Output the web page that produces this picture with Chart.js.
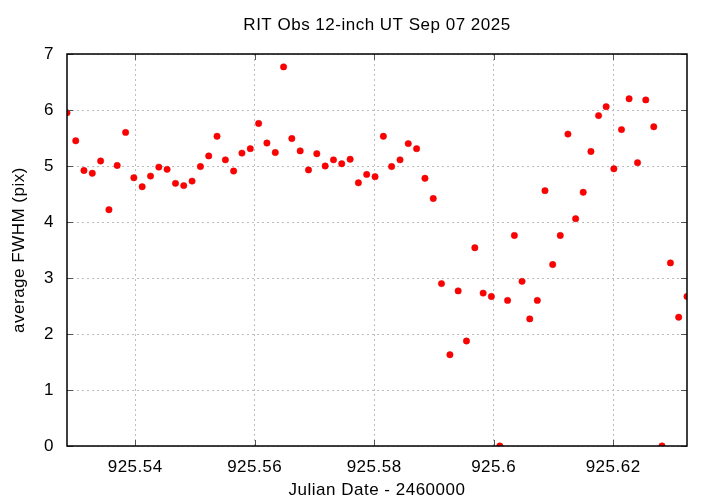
<!DOCTYPE html>
<html>
<head>
<meta charset="utf-8">
<script src="https://cdn.jsdelivr.net/npm/chart.js@4.4.1/dist/chart.umd.min.js"></script>
<style>
    html, body { margin: 0; padding: 0; background: #fff; }
    #wrap { width: 720px; height: 504px; }
</style>
</head>
<body>
<div id="wrap"><canvas id="fwhmChart" width="720" height="504"></canvas></div>
<script>
// Julian date - 2460000 for each frame
const jdValues = [
    925.52859, 925.53005, 925.53143, 925.53282, 925.53422, 925.53561, 925.53699, 925.53840,
    925.53978, 925.54117, 925.54257, 925.54396, 925.54534, 925.54675, 925.54813, 925.54952,
    925.55092, 925.55231, 925.55370, 925.55510, 925.55648, 925.55787, 925.55927, 925.56066,
    925.56205, 925.56345, 925.56484, 925.56622, 925.56762, 925.56901, 925.57040, 925.57180,
    925.57319, 925.57457, 925.57598, 925.57736, 925.57875, 925.58015, 925.58154, 925.58292,
    925.58433, 925.58571, 925.58710, 925.58850, 925.58989, 925.59127, 925.59268, 925.59406,
    925.59545, 925.59685, 925.59824, 925.59962, 925.60103, 925.60233, 925.60347, 925.60475,
    925.60604, 925.60731, 925.60859, 925.60988, 925.61115, 925.61243, 925.61372, 925.61499,
    925.61628, 925.61756, 925.61883, 925.62012, 925.62140, 925.62267, 925.62408, 925.62546,
    925.62680, 925.62818, 925.62959, 925.63097, 925.63236
];

// average FWHM in pixels
const fwhmValues = [
    5.95, 5.45, 4.92, 4.87, 5.09, 4.22, 5.01, 5.60,
    4.79, 4.63, 4.82, 4.98, 4.94, 4.69, 4.65, 4.73,
    4.99, 5.18, 5.53, 5.11, 4.91, 5.23, 5.31, 5.76,
    5.41, 5.24, 6.77, 5.49, 5.27, 4.93, 5.22, 5.00,
    5.11, 5.04, 5.12, 4.70, 4.85, 4.81, 5.53, 4.99,
    5.11, 5.40, 5.31, 4.78, 4.42, 2.90, 1.63, 2.77,
    1.875, 3.54, 2.73, 2.67, 0.00, 2.60, 3.76, 2.94,
    2.27, 2.60, 4.56, 3.24, 3.76, 5.57, 4.06, 4.53,
    5.26, 5.90, 6.06, 4.95, 5.65, 6.20, 5.06, 6.18,
    5.70, 0.00, 3.27, 2.30, 2.67
];

const xTicks = [925.54, 925.56, 925.58, 925.60, 925.62];
const xTickLabels = ['925.54', '925.56', '925.58', '925.6', '925.62'];
const yTicks = [0, 1, 2, 3, 4, 5, 6, 7];

const X_MIN = 925.52859;
const X_MAX = 925.63236;
const FONT = '"Liberation Sans", Arial, sans-serif';
const FONT_SIZE = 17;

// gnuplot-style frame: black border, inward tick marks on all four sides, centred title
const framePlugin = {
    id: 'frame',
    beforeDraw(chart) {
        // gnuplot's text runs a bit wider than canvas text
        chart.ctx.letterSpacing = '0.5px';
    },
    afterDraw(chart) {
        const { ctx, chartArea: a, scales } = chart;
        ctx.save();
        ctx.strokeStyle = '#555';
        ctx.lineWidth = 1;
        const tl = 6;
        ctx.beginPath();
        xTicks.forEach(v => {
            const px = Math.round(scales.x.getPixelForValue(v)) + 0.5;
            ctx.moveTo(px, a.bottom); ctx.lineTo(px, a.bottom - tl);
            ctx.moveTo(px, a.top); ctx.lineTo(px, a.top + tl);
        });
        yTicks.forEach(v => {
            const py = Math.round(scales.y.getPixelForValue(v)) + 0.5;
            ctx.moveTo(a.left, py); ctx.lineTo(a.left + tl, py);
            ctx.moveTo(a.right, py); ctx.lineTo(a.right - tl, py);
        });
        ctx.stroke();

        ctx.strokeStyle = '#000';
        ctx.lineWidth = 1.5;
        ctx.strokeRect(a.left, a.top, a.right - a.left, a.bottom - a.top);

        ctx.fillStyle = '#000';
        ctx.letterSpacing = '0.5px';
        ctx.font = FONT_SIZE + 'px ' + FONT;
        ctx.textAlign = 'center';
        ctx.textBaseline = 'middle';
        ctx.fillText('RIT Obs 12-inch UT Sep 07 2025', (a.left + a.right) / 2, 25);
        ctx.restore();
    }
};

new Chart(document.getElementById('fwhmChart'), {
    type: 'scatter',
    data: {
        datasets: [{
            label: 'FWHM',
            data: jdValues.map((x, i) => ({ x: x, y: fwhmValues[i] })),
            backgroundColor: '#ff0000',
            borderColor: '#e00000',
            borderWidth: 0.5,
            pointRadius: 3.2,
            pointHoverRadius: 3.2
        }]
    },
    options: {
        responsive: false,
        animation: false,
        layout: { padding: { top: 54, right: 33, left: 0, bottom: 0 } },
        plugins: {
            legend: { display: false },
            tooltip: { enabled: false },
            title: { display: false }
        },
        scales: {
            x: {
                type: 'linear',
                min: X_MIN,
                max: X_MAX,
                afterBuildTicks: scale => { scale.ticks = xTicks.map(v => ({ value: v })); },
                afterFit: scale => { scale.height = 58; },
                grid: { color: '#bdbdbd', lineWidth: 1, drawTicks: false },
                border: { display: false, dash: [2, 3] },
                ticks: {
                    padding: 11,
                    color: '#000',
                    font: { family: FONT, size: FONT_SIZE },
                    maxRotation: 0,
                    callback: value => {
                        const i = xTicks.findIndex(t => Math.abs(t - value) < 1e-6);
                        return i >= 0 ? xTickLabels[i] : '';
                    }
                },
                title: {
                    display: true,
                    text: 'Julian Date - 2460000',
                    color: '#000',
                    font: { family: FONT, size: FONT_SIZE },
                    padding: { top: 0, bottom: 3 }
                }
            },
            y: {
                type: 'linear',
                min: 0,
                max: 7,
                afterBuildTicks: scale => { scale.ticks = yTicks.map(v => ({ value: v })); },
                afterFit: scale => { scale.width = 67; },
                grid: { color: '#bdbdbd', lineWidth: 1, drawTicks: false },
                border: { display: false, dash: [2, 3] },
                ticks: {
                    padding: 13,
                    color: '#000',
                    font: { family: FONT, size: FONT_SIZE },
                    callback: value => String(value)
                },
                title: {
                    display: true,
                    text: 'average FWHM (pix)',
                    color: '#000',
                    font: { family: FONT, size: FONT_SIZE },
                    padding: { top: 9, bottom: 0 }
                }
            }
        }
    },
    plugins: [framePlugin]
});
</script>
</body>
</html>
